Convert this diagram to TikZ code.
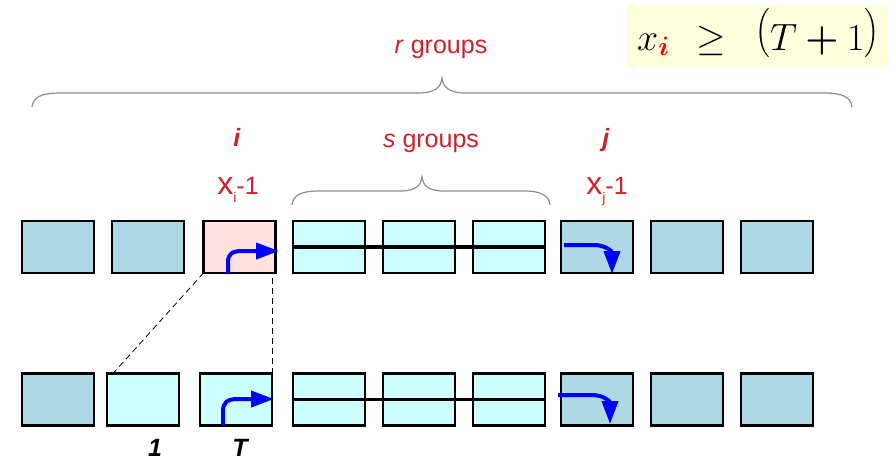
\RequirePackage{fix-cm}
\documentclass[tikz,border=0pt]{standalone}
\usepackage[no-math]{fontspec}
\setmainfont{Liberation Sans}
\usepackage{amsmath}
\usepackage{graphicx}
\usetikzlibrary{arrows.meta,calc}
\definecolor{boxblue}{RGB}{173,216,230}
\definecolor{boxcyan}{RGB}{204,255,255}
\definecolor{boxpink}{RGB}{255,225,225}
\definecolor{lblred}{RGB}{204,34,41}
\definecolor{formred}{RGB}{240,0,0}
\definecolor{formbg}{RGB}{255,255,222}
\definecolor{bracegray}{RGB}{140,140,140}
\newcommand{\tallparen}[1]{\raisebox{7pt}{\scalebox{1}[1.1]{$#1$}}}
\begin{document}
\begin{tikzpicture}[x=1pt,y=-1pt,
  cell/.style={draw=black,line width=2.6pt,minimum width=72pt,minimum height=52pt,inner sep=0pt,outer sep=0pt},
  bcell/.style={cell,fill=boxblue},
  ccell/.style={cell,fill=boxcyan},
  pcell/.style={cell,fill=boxpink},
  lbl/.style={text=lblred,font=\fontsize{25}{28}\selectfont,inner sep=0pt},
  blbl/.style={text=black,font=\fontsize{25}{28}\selectfont\bfseries\itshape,inner sep=0pt},
  brace/.style={draw=bracegray,line width=1.2pt},
  flow/.style={draw=blue,line width=4pt,-{Triangle[length=23pt,width=16pt]}},
  bar/.style={draw=black,line width=3.8pt},
  guide/.style={draw=black,line width=0.8pt,dash pattern=on 6pt off 4pt},
  formula/.style={inner sep=0pt,font=\fontsize{38}{42}\selectfont}
]
\useasboundingbox (0,0) rectangle (893,460);

% formula box
\node[fill=formbg,minimum width=261pt,minimum height=62pt,inner sep=0pt] (fbg) at (757.5,36) {};
\node[formula,anchor=base west] (fx) at (637,50) {$x_{\textcolor{formred}{\boldsymbol{i}}}$};
\node[formula,anchor=base] (fge) at (711,50) {$\geq$};
\node[formula,anchor=base west] (frhs) at (755,50) {$\tallparen{\bigl(}T\boldsymbol{+}1\tallparen{\bigr)}$};

% braces
\draw[brace] (32,107) .. controls (33,97) and (42,93) .. (60,93) -- (418,93)
  .. controls (434,93) and (441,88) .. (442,78)
  .. controls (443,88) and (450,93) .. (466,93) -- (824,93)
  .. controls (842,93) and (851,97) .. (852,107);
\draw[brace] (292,205) .. controls (293,195) and (302,191) .. (318,191) -- (400,191)
  .. controls (415,191) and (421,186) .. (422,177)
  .. controls (423,186) and (429,191) .. (444,191) -- (524,191)
  .. controls (540,191) and (549,195) .. (550,205);

% labels
\node[lbl,anchor=base] (rg) at (441,53) {\textit{r} groups};
\node[lbl,anchor=base] (sg) at (431,147) {\textit{s} groups};
\node[lbl,anchor=base] (li) at (237,146) {\textbf{\textit{i}}};
\node[lbl,anchor=base] (lj) at (606,146) {\textbf{\textit{j}}};
\node[lbl,anchor=base] (xi) at (238,194) {{\fontsize{32}{32}\selectfont x}\raisebox{-8pt}{\fontsize{14}{14}\selectfont i}-1};
\node[lbl,anchor=base] (xj) at (607,194) {{\fontsize{32}{32}\selectfont x}\raisebox{-8pt}{\fontsize{14}{14}\selectfont j}-1};

% top row
\node[bcell] (t1) at (58,247) {};
\node[bcell] (t2) at (148,247) {};
\node[pcell] (t3) at (239.5,247) {};
\node[ccell] (t4) at (329,247) {};
\node[ccell] (t5) at (419,247) {};
\node[ccell] (t6) at (509,247) {};
\node[bcell] (t7) at (597,247) {};
\node[bcell] (t8) at (687,247) {};
\node[bcell] (t9) at (777,247) {};

% bottom row
\node[bcell] (b1) at (58,399.5) {};
\node[ccell] (b2) at (143,399.5) {};
\node[ccell] (b3) at (236,399.5) {};
\node[ccell] (b4) at (329,399.5) {};
\node[ccell] (b5) at (419,399.5) {};
\node[ccell] (b6) at (509,399.5) {};
\node[bcell] (b7) at (597,399.5) {};
\node[bcell] (b8) at (687,399.5) {};
\node[bcell] (b9) at (777,399.5) {};

% bars through the s groups
\draw[bar] (t4.west) -- (t6.east);
\draw[bar] (b4.west) -- (b6.east);

% dashed guides
\draw[guide] (t3.south west) -- ([xshift=6pt]b2.north west);
\draw[guide] (b3.north east) -- (b3.north east |- t3.south);

% blue flow arrows
\draw[flow] (228,274) -- (228,262) .. controls (228,254) and (232,251) .. (242,251) -- (279,251);
\draw[flow] (223,425) -- (223,411) .. controls (223,403) and (227,399) .. (237,399) -- (274,399);
\draw[flow] (564,245) -- (594,245) .. controls (606,245) and (612,252) .. (612,274);
\draw[flow] (558,395) -- (592,395) .. controls (604,395) and (610,402) .. (610,424);

% bottom labels
\node[blbl,anchor=base] (l1) at (155,456) {1};
\node[blbl,anchor=base] (lT) at (240,456) {T};
\end{tikzpicture}
\end{document}
